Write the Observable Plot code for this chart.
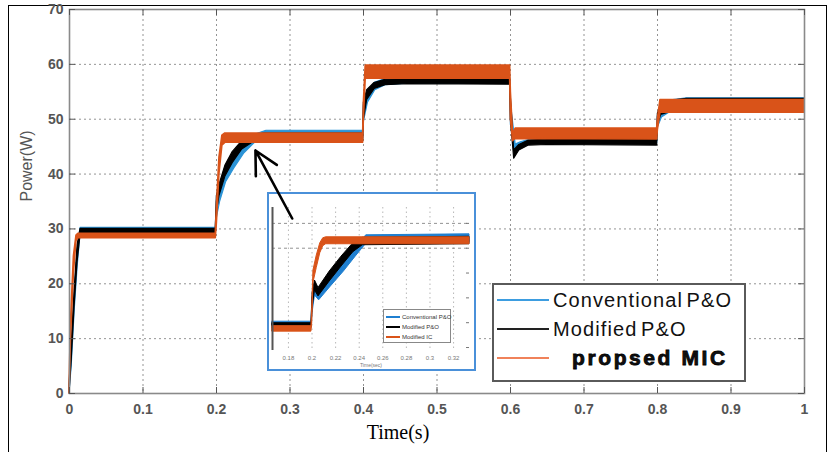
<!DOCTYPE html>
<html><head><meta charset="utf-8">
<script src="https://cdn.jsdelivr.net/npm/d3@7"></script>
<script src="https://cdn.jsdelivr.net/npm/@observablehq/plot@0.6"></script>
<style>
html,body{margin:0;padding:0;background:#fff;}
#wrap{position:relative;width:833px;height:452px;overflow:hidden;font-family:"Liberation Sans",Arial,sans-serif;}
.abs{position:absolute;}
#frame{left:8px;top:5px;width:819px;height:480px;border:1px solid #000;box-sizing:border-box;}
#insetBox{left:267px;top:192px;width:209px;height:179px;border:2px solid #4a90d9;box-sizing:border-box;background:#fff;}
#legend{left:492px;top:283px;width:254px;height:99px;border:2px solid #5a5a5a;box-sizing:border-box;background:#fff;}
#insetLegend{left:383px;top:309px;width:68px;height:34px;border:1px solid #888;box-sizing:border-box;background:#fff;}
.row{position:absolute;display:flex;align-items:center;white-space:nowrap;}
#overlay{pointer-events:none;}
</style>
</head><body>
<div id="wrap">
  <div id="frame" class="abs"></div>
  <div id="mainHolder" class="abs" style="left:0;top:0"></div>
  <div id="insetBox" class="abs"></div>
  <div id="insetHolder" class="abs" style="left:269px;top:194px"></div>
  <div id="insetLegend" class="abs"></div>
  <div id="legend" class="abs"></div>
  <div id="overlay" class="abs" style="left:0;top:0"></div>
</div>
<script>
// ---------- series names & colours ----------
const seriesNames = ["Conventional P&O", "Modified P&O", "propsed MIC"];
const seriesColors = ["#2b93d6", "#000000", "#d95319"];
const legendLineColors = ["#3d9de0", "#222222", "#f0825a"];

// ---------- main chart data (time in s, power envelope low/high in W) ----------
const tBlue  = [0, 0.003, 0.007, 0.011, 0.015, 0.199, 0.2005, 0.205, 0.213, 0.224, 0.238, 0.253, 0.268, 0.3995, 0.4005, 0.406, 0.416, 0.43, 0.46, 0.5995, 0.6005, 0.607, 0.614, 0.627, 0.65, 0.7995, 0.8005, 0.806, 0.816, 0.84, 1.0];
const loBlue = [0, 5, 15, 23, 29.1, 29.2, 32, 35, 38.5, 41, 43.8, 45.8, 46.5, 46.5, 49.5, 53, 55.3, 56.2, 56.5, 56.5, 49, 44.2, 44.8, 45.5, 45.6, 45.6, 48.5, 50.3, 51.2, 51.4, 51.4];
const hiBlue = [1, 8, 18, 26, 30.2, 30.2, 35, 37, 40.5, 43, 45.5, 47.2, 47.9, 47.9, 52.5, 55, 56.7, 57.3, 57.5, 57.5, 53, 45.4, 45.8, 46.3, 46.4, 46.4, 50.5, 52.5, 53.4, 53.8, 53.8];

const tBlack  = [0, 0.003, 0.007, 0.011, 0.015, 0.199, 0.2005, 0.204, 0.212, 0.222, 0.235, 0.25, 0.265, 0.3995, 0.4005, 0.405, 0.415, 0.43, 0.46, 0.5995, 0.6005, 0.605, 0.612, 0.625, 0.65, 0.7995, 0.8005, 0.805, 0.815, 0.84, 1.0];
const loBlack = [0, 6, 16, 24, 28.9, 29.0, 33, 36, 39.5, 42, 44.5, 45.8, 46.1, 46.1, 50, 53.5, 55.5, 56.2, 56.4, 56.3, 50, 42.8, 44.3, 45.2, 45.3, 45.2, 49, 50.8, 51.2, 51.3, 51.3];
const hiBlack = [1.5, 9, 19, 27, 30.0, 30.0, 36, 38, 41.5, 44, 46, 47, 47.4, 47.4, 53, 55.3, 56.6, 57.2, 57.3, 57.3, 54, 44.3, 45.3, 46.1, 46.3, 46.4, 51, 52.5, 53.3, 53.7, 53.7];

const tOrange  = [0, 0.002, 0.006, 0.0095, 0.012, 0.199, 0.2005, 0.204, 0.208, 0.212, 0.3995, 0.4005, 0.403, 0.5995, 0.6005, 0.6035, 0.607, 0.7995, 0.8005, 0.804, 1.0];
const loOrange = [0, 10, 22, 27.8, 28.3, 28.3, 31, 40, 45.2, 45.7, 45.7, 50, 57.4, 57.4, 50, 46.0, 46.4, 46.3, 48, 51.2, 51.2];
const hiOrange = [1, 13, 25, 28.8, 29.1, 29.1, 34, 43, 47.0, 47.4, 47.4, 53, 59.8, 59.8, 55, 47.2, 48.3, 48.3, 50, 53.5, 53.5];

// ---------- main axes ----------
const xDomain = [0, 1];
const yDomain = [0, 70];
const xTicks = [0, 0.1, 0.2, 0.3, 0.4, 0.5, 0.6, 0.7, 0.8, 0.9, 1];
const xTickLabels = ["0", "0.1", "0.2", "0.3", "0.4", "0.5", "0.6", "0.7", "0.8", "0.9", "1"];
const yTicks = [0, 10, 20, 30, 40, 50, 60, 70];
const xLabel = "Time(s)";
const yLabel = "Power(W)";

// ---------- arrow annotation (data coordinates) ----------
const arrowAnnot = [{x1: 0.303, y1: 31.9, x2: 0.253, y2: 44.3}];

// ---------- inset (zoom of the 0.2 s step) ----------
const insetNames = ["Conventional P&O", "Modified P&O", "Modified IC"];
const insetTBlue  = [0.1665, 0.1995, 0.2005, 0.2025, 0.206, 0.216, 0.227, 0.237, 0.246, 0.3335];
const insetLoBlue = [29.0, 29.0, 32, 35.5, 34.5, 37.3, 40.3, 43.3, 45.9, 46.2];
const insetHiBlue = [30.2, 30.2, 35, 37.5, 36.3, 39.3, 42.3, 45, 47.6, 47.8];
const insetTBlack  = [0.1665, 0.1995, 0.2005, 0.2025, 0.2055, 0.215, 0.225, 0.235, 0.243, 0.3335];
const insetLoBlack = [28.9, 28.9, 33, 36.5, 35.3, 38.3, 41.3, 44.2, 45.6, 45.8];
const insetHiBlack = [29.9, 29.9, 36, 38.5, 37, 40.3, 43.3, 46, 47.1, 47.3];
const insetTOrange  = [0.1665, 0.1995, 0.2002, 0.2012, 0.204, 0.207, 0.2095, 0.212, 0.3335];
const insetLoOrange = [28.2, 28.2, 30, 38, 41, 44, 45.4, 45.8, 45.8];
const insetHiOrange = [29.3, 29.3, 33, 40.5, 43.5, 46, 47.0, 47.2, 47.2];
const insetXDomain = [0.1665, 0.3335];
const insetYDomain = [24.4, 53.2];
const insetXTicks = [0.18, 0.2, 0.22, 0.24, 0.26, 0.28, 0.3, 0.32];
const insetXTickLabels = ["0.18", "0.2", "0.22", "0.24", "0.26", "0.28", "0.3", "0.32"];
const insetYTicks = [25, 30, 35, 40, 45, 50];
const insetGridY = [45, 50];
const insetXLabel = "Time(sec)";
const insetColors = ["#1f7fd0", "#000000", "#d95319"];

// ---------- helpers ----------
const rows = (t, lo, hi) => t.map((v, i) => ({t: v, lo: lo[i], hi: hi[i]}));
const band = (data, color, sw) => Plot.areaY(data, {x: "t", y1: "lo", y2: "hi", fill: color, stroke: color, strokeWidth: sw});

// ---------- main plot ----------
const W = 833, H = 452, mL = 69, mR = 29, mT = 9, mB = 59;
const innerW = W - mL - mR, innerH = H - mT - mB;
const gridStyle = {stroke: "#666", strokeOpacity: 0.7, strokeDasharray: "2,3", strokeWidth: 1};

const main = Plot.plot({
  width: W, height: H, marginLeft: mL, marginRight: mR, marginTop: mT, marginBottom: mB,
  style: {fontFamily: "'Liberation Sans', Arial, sans-serif", fontSize: "14px", color: "#555", background: "transparent"},
  x: {domain: xDomain},
  y: {domain: yDomain},
  marks: [
    Plot.gridX(xTicks, gridStyle),
    Plot.gridY(yTicks, gridStyle),
    band(rows(tBlue, loBlue, hiBlue), seriesColors[0], 1.2),
    band(rows(tBlack, loBlack, hiBlack), seriesColors[1], 1.2),
    band(rows(tOrange, loOrange, hiOrange), seriesColors[2], 1.6),
    Plot.frame({stroke: "#8a8a8a", strokeWidth: 1.6}),
    Plot.tickY(yTicks, {y: d => d, insetRight: innerW - 6, stroke: "#555"}),
    Plot.tickY(yTicks, {y: d => d, insetLeft: innerW - 6, stroke: "#555"}),
    Plot.tickX(xTicks, {x: d => d, insetTop: innerH - 6, stroke: "#555"}),
    Plot.tickX(xTicks, {x: d => d, insetBottom: innerH - 6, stroke: "#555"}),
    Plot.axisX(xTicks, {tickSize: 0, tickPadding: 11, tickFormat: d => xTickLabels[xTicks.indexOf(d)], label: null, fontWeight: "bold"}),
    Plot.axisY(yTicks, {tickSize: 0, tickPadding: 6, label: null, fontWeight: "bold"}),
    Plot.text([xLabel], {frameAnchor: "bottom", dx: -39, dy: 39, lineAnchor: "middle", fontFamily: "'Liberation Serif', 'Times New Roman', serif", fontSize: 20, fill: "#000"}),
    Plot.text([yLabel], {frameAnchor: "left", dx: -43, rotate: -90, lineAnchor: "middle", fontSize: 16, fill: "#555"})
  ]
});
document.getElementById("mainHolder").appendChild(main);

// ---------- overlay with arrow (same scales) ----------
const overlay = Plot.plot({
  width: W, height: H, marginLeft: mL, marginRight: mR, marginTop: mT, marginBottom: mB,
  style: {background: "transparent"},
  x: {domain: xDomain, axis: null},
  y: {domain: yDomain, axis: null},
  marks: [
    Plot.arrow(arrowAnnot, {x1: "x1", y1: "y1", x2: "x2", y2: "y2", stroke: "#000", strokeWidth: 2.6, headLength: 16, headAngle: 55})
  ]
});
document.getElementById("overlay").appendChild(overlay);

// ---------- inset plot ----------
const iW = 205, iH = 175, iL = 3, iR = 5, iT = 13, iB = 19;
const inset = Plot.plot({
  width: iW, height: iH, marginLeft: iL, marginRight: iR, marginTop: iT, marginBottom: iB,
  style: {fontFamily: "'Liberation Sans', Arial, sans-serif", fontSize: "6px", color: "#777", background: "#fff"},
  x: {domain: insetXDomain},
  y: {domain: insetYDomain, axis: null},
  marks: [
    Plot.gridX(insetXTicks, {stroke: "#888", strokeOpacity: 0.6, strokeDasharray: "1.5,3"}),
    Plot.gridY(insetGridY, {stroke: "#777", strokeOpacity: 0.8, strokeDasharray: "3,3"}),
    band(rows(insetTBlue, insetLoBlue, insetHiBlue), insetColors[0], 1),
    band(rows(insetTBlack, insetLoBlack, insetHiBlack), insetColors[1], 1),
    band(rows(insetTOrange, insetLoOrange, insetHiOrange), insetColors[2], 1),
    Plot.ruleX([insetXDomain[0]], {stroke: "#555", strokeWidth: 2}),
    Plot.tickY(insetYTicks, {y: d => d, insetLeft: iW - iL - iR - 3, stroke: "#777"}),
    Plot.axisX(insetXTicks, {tickSize: 0, tickPadding: 5, tickFormat: d => insetXTickLabels[insetXTicks.indexOf(d)], label: null}),
    Plot.text([insetXLabel], {frameAnchor: "bottom", dy: 15, lineAnchor: "middle", fontSize: 5, fill: "#777"})
  ]
});
document.getElementById("insetHolder").appendChild(inset);

// ---------- main legend ----------
const legend = document.getElementById("legend");
const legendCenters = [15, 44, 73];
seriesNames.forEach((name, i) => {
  const line = document.createElement("div");
  line.className = "abs";
  line.style.cssText = `left:3px;top:${legendCenters[i] - 1}px;width:52px;height:2px;background:${legendLineColors[i]};`;
  legend.appendChild(line);
  const txt = document.createElement("div");
  txt.className = "row";
  const bold = i === 2;
  txt.style.cssText = `left:${bold ? 78 : 59}px;top:${legendCenters[i] - 13}px;height:26px;font-size:20px;color:#111;` +
    (bold ? "font-weight:bold;font-size:21px;letter-spacing:2.6px;-webkit-text-stroke:0.8px #000;" : "letter-spacing:1.1px;word-spacing:-3px;");
  txt.textContent = name;
  legend.appendChild(txt);
});

// ---------- inset legend ----------
const iLeg = document.getElementById("insetLegend");
const iCenters = [7, 17, 27];
insetNames.forEach((name, i) => {
  const line = document.createElement("div");
  line.className = "abs";
  line.style.cssText = `left:2px;top:${iCenters[i] - 1}px;width:14px;height:1.5px;background:${insetColors[i]};`;
  iLeg.appendChild(line);
  const txt = document.createElement("div");
  txt.className = "row";
  txt.style.cssText = `left:18px;top:${iCenters[i] - 5}px;height:10px;font-size:6px;color:#333;`;
  txt.textContent = name;
  iLeg.appendChild(txt);
});
</script>
</body></html>
